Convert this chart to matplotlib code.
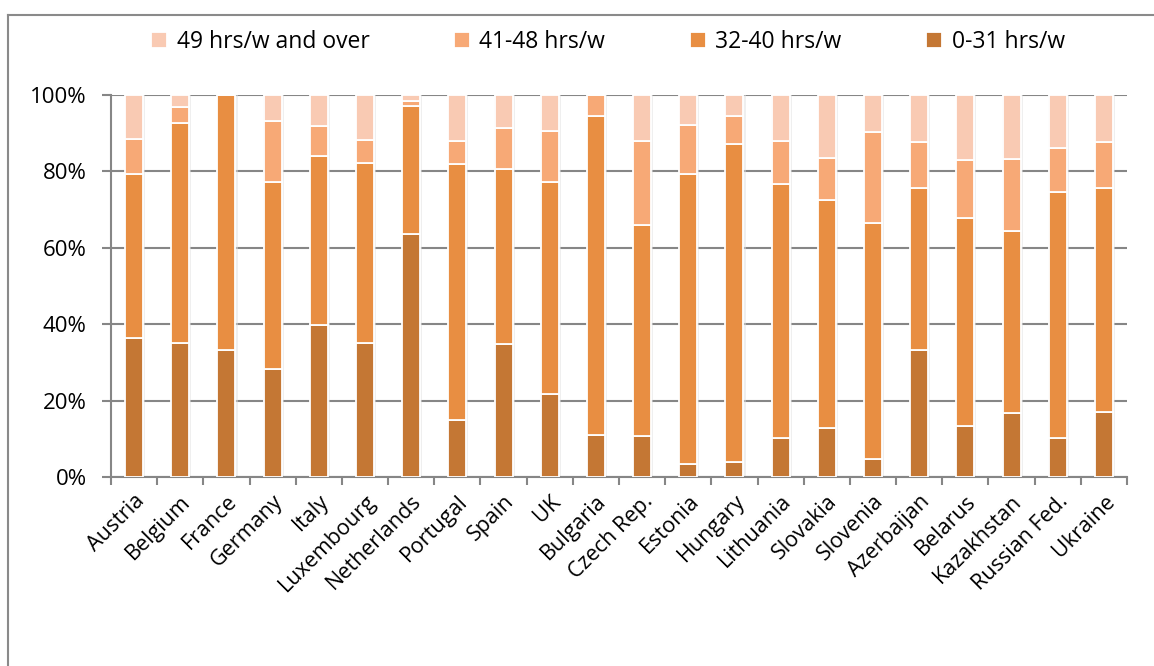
import matplotlib.pyplot as plt
import numpy as np
from matplotlib.lines import Line2D

# Países
countries = ['Austria', 'Belgium', 'France', 'Germany', 'Italy', 'Luxembourg',
             'Netherlands', 'Portugal', 'Spain', 'UK', 'Bulgaria', 'Czech Rep.',
             'Estonia', 'Hungary', 'Lithuania', 'Slovakia', 'Slovenia',
             'Azerbaijan', 'Belarus', 'Kazakhstan', 'Russian Fed.', 'Ukraine']

# Participação (%) por faixa de horas
h0_31 = [36.4, 35.2, 33.2, 28.2, 39.9, 35.2, 63.6, 14.9, 34.8, 21.7, 11.1,
         10.8, 3.5, 3.8, 10.3, 12.9, 4.6, 33.2, 13.3, 16.7, 10.3, 17.1]
h32_40 = [43.0, 57.4, 66.8, 49.1, 44.1, 47.1, 33.6, 67.1, 45.7, 55.6, 83.4,
          55.1, 75.9, 83.5, 66.4, 59.5, 62.0, 42.5, 54.6, 47.8, 64.2, 58.6]
h41_48 = [9.1, 4.3, 0.0, 16.0, 8.0, 5.9, 1.2, 6.0, 10.8, 13.3, 5.5,
          22.0, 12.7, 7.3, 11.2, 11.2, 23.8, 12.1, 15.2, 18.8, 11.6, 12.1]
h49 = [11.5, 3.1, 0.0, 6.7, 8.0, 11.8, 1.6, 12.0, 8.7, 9.4, 0.0,
       12.1, 7.9, 5.4, 12.1, 16.4, 9.6, 12.2, 16.9, 16.7, 13.9, 12.2]

series = [('0-31 hrs/w', h0_31, '#C47734'),
          ('32-40 hrs/w', h32_40, '#E88E42'),
          ('41-48 hrs/w', h41_48, '#F7A976'),
          ('49 hrs/w and over', h49, '#F9CAB3')]

plt.rcParams['font.family'] = ['Open Sans', 'DejaVu Sans']

fig = plt.figure(figsize=(11.54, 6.66), dpi=100)
ax = fig.add_axes([111 / 1154, 1 - 477 / 666, 1016 / 1154, 382 / 666])

# moldura cinza do gráfico: só topo e esquerda aparecem
ytop = 1 - 15 / 666
xl = 8 / 1154
fig.lines.append(Line2D([xl, xl], [0, ytop], transform=fig.transFigure,
                        color='#8a8a8a', linewidth=1.5))
fig.lines.append(Line2D([xl, 1], [ytop, ytop], transform=fig.transFigure,
                        color='#8a8a8a', linewidth=1.5))

x = np.arange(len(countries))
bottom = np.zeros(len(countries))
handles = {}
for name, vals, color in series:
    vals = np.array(vals)
    # sombra leve
    ax.bar(x + 0.02, vals, 0.44, bottom=bottom, color='#e0e0e0', alpha=0.5,
           linewidth=0, zorder=2)
    b = ax.bar(x, vals, 0.39, bottom=bottom, color=color, edgecolor='white',
               linewidth=1.3, zorder=3, label=name)
    handles[name] = b
    bottom += vals

ax.set_xlim(-0.5, len(countries) - 0.5)
ax.set_ylim(0, 100)
ax.set_yticks(range(0, 101, 20))
ax.set_yticklabels([f'{v}%' for v in range(0, 101, 20)], fontsize=16)
ax.yaxis.grid(True, color='#868686', linewidth=1.5, zorder=0)
ax.set_axisbelow(True)

ax.set_xticks(x)
ax.set_xticklabels(countries, rotation=45, ha='right', va='top',
                   rotation_mode='anchor', fontsize=15.5)
ax.set_xticks(np.arange(-0.5, len(countries)), minor=True)
ax.tick_params(axis='x', which='major', length=0, pad=10)
ax.tick_params(axis='x', which='minor', length=6, color='#868686', width=1.5)
ax.tick_params(axis='y', length=6.5, color='#868686', width=1.5, pad=11)

for s in ['top', 'right']:
    ax.spines[s].set_visible(False)
for s in ['left', 'bottom']:
    ax.spines[s].set_color('#868686')
    ax.spines[s].set_linewidth(1.5)

order = ['49 hrs/w and over', '41-48 hrs/w', '32-40 hrs/w', '0-31 hrs/w']
fig.legend([handles[n] for n in order], order, loc='center',
           bbox_to_anchor=(608 / 1154, 1 - 42 / 666), ncol=4, frameon=False,
           fontsize=16.5, handlelength=0.7, handleheight=0.7, handletextpad=0.4,
           columnspacing=3.7)

plt.savefig('out.png', dpi=100)
plt.close()
